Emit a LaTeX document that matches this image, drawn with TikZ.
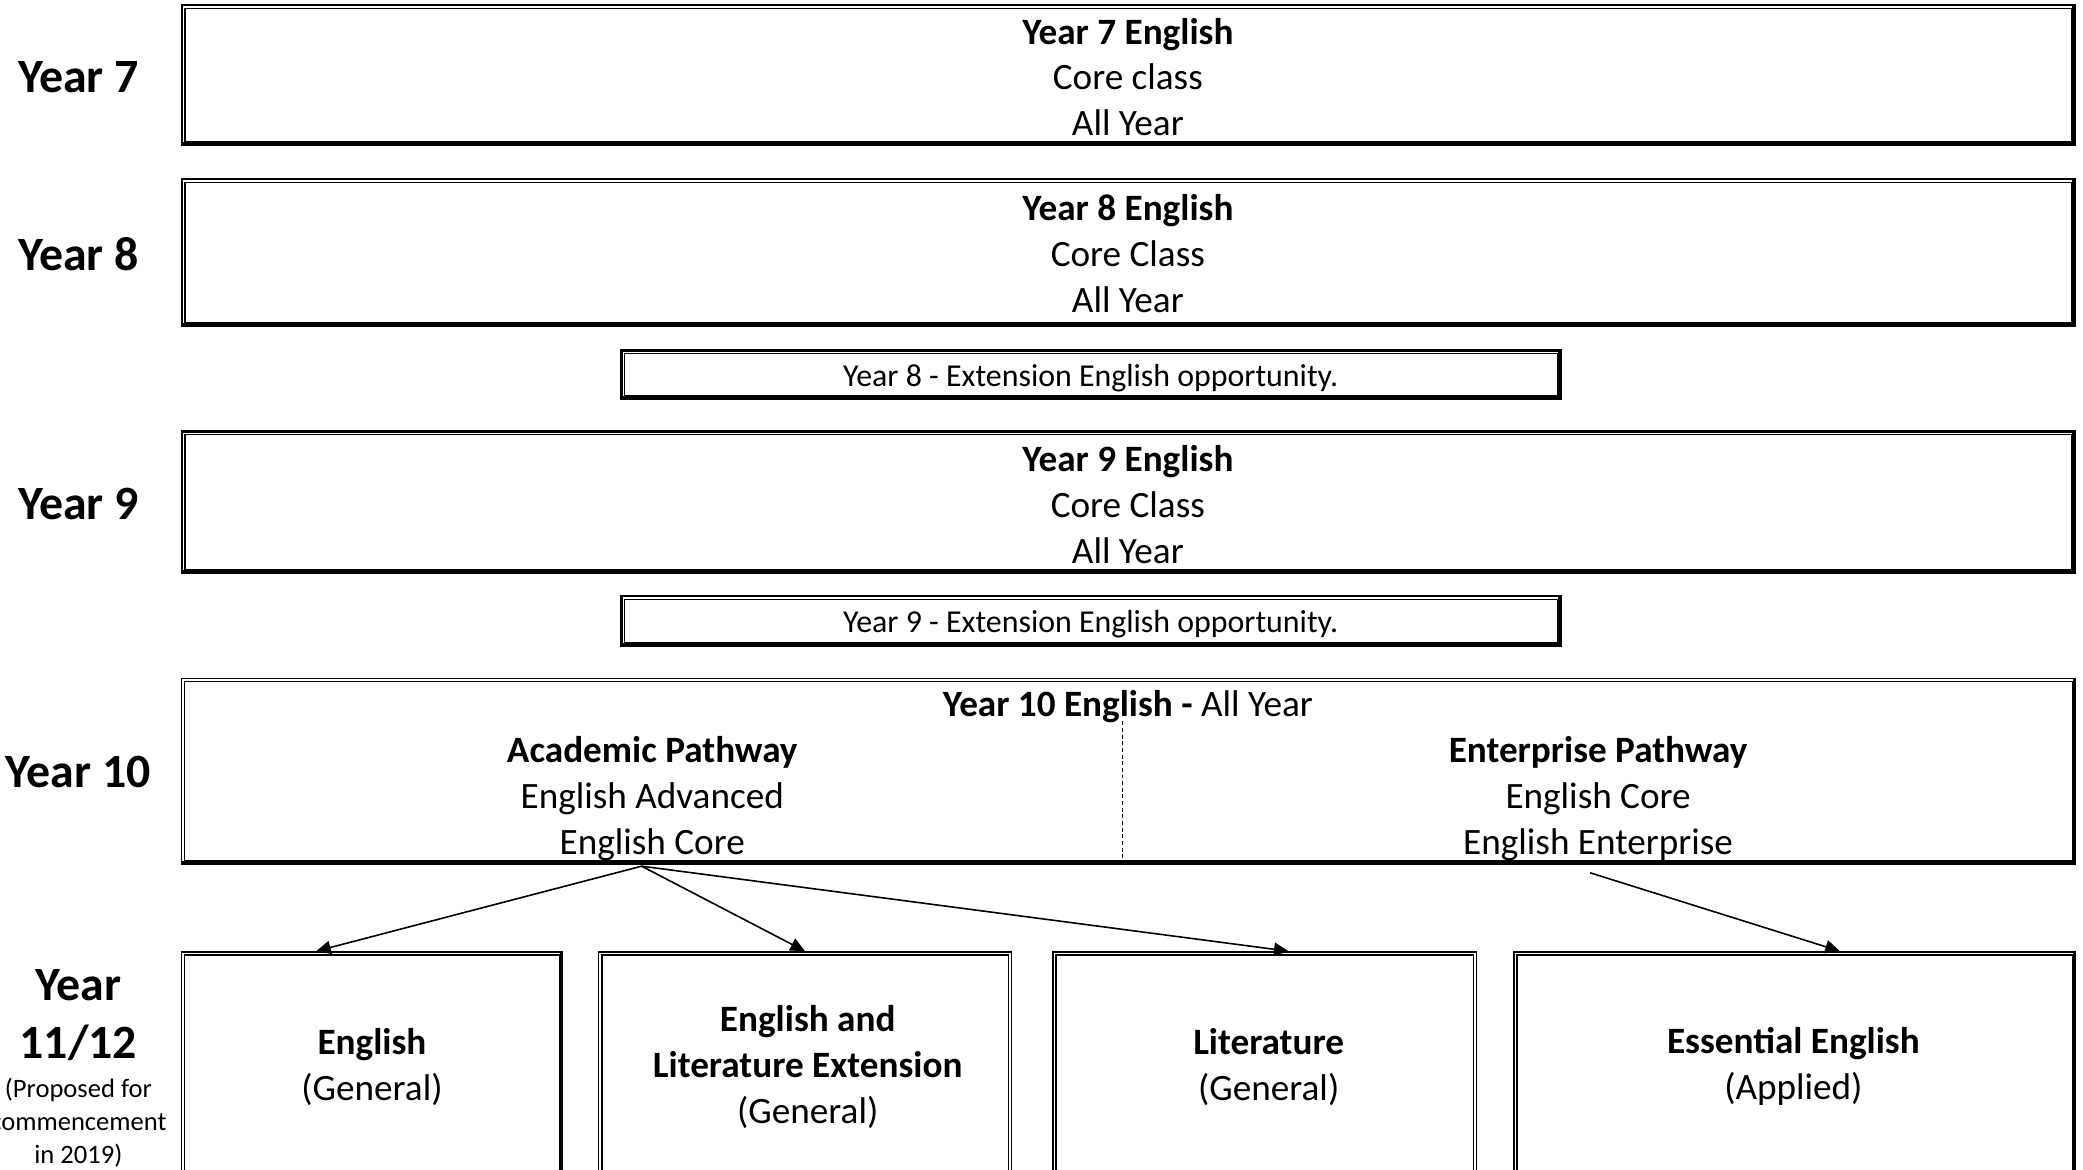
\documentclass[tikz,border=0pt]{standalone}
\usepackage{fontspec}
\setmainfont{Carlito}
\usetikzlibrary{arrows.meta,fit}
\tikzset{
  every node/.append style={inner sep=0pt, outer sep=0pt},
  frm/.style={inner sep=0pt, outer sep=0pt},
  txt/.style={font=\fontsize{14}{17.25}\selectfont, align=center},
  exttxt/.style={font=\fontsize{12}{14.6}\selectfont},
  lbl/.style={font=\fontsize{18}{22}\selectfont\bfseries, align=center},
  smalltxt/.style={font=\fontsize{10}{12.5}\selectfont, align=center},
  arr/.style={-{Triangle[length=5.5pt,width=5pt]}, line width=0.6pt},
}
\newcommand\tframe[1]{%
  \draw[line width=0.85pt] ([shift={(0.43pt,0.43pt)}]#1.south west) rectangle ([shift={(-0.43pt,-0.43pt)}]#1.north east);
  \draw[line width=0.55pt] ([shift={(1.6pt,1.6pt)}]#1.south west) rectangle ([shift={(-1.6pt,-1.6pt)}]#1.north east);
  \draw[line width=1.5pt] ([shift={(0pt,0.75pt)}]#1.south west) -- ([shift={(-0.75pt,0.75pt)}]#1.south east) -- ([shift={(-0.75pt,0pt)}]#1.north east);
}
\newcommand\dframe[1]{%
  \draw[line width=0.55pt] ([shift={(0.28pt,0.28pt)}]#1.south west) rectangle ([shift={(-0.28pt,-0.28pt)}]#1.north east);
  \draw[line width=0.55pt] ([shift={(1.5pt,1.5pt)}]#1.south west) rectangle ([shift={(-1.5pt,-1.5pt)}]#1.north east);
}
\newcommand\thickright[1]{%
  \draw[line width=1.3pt] ([shift={(-0.65pt,0pt)}]#1.south east) -- ([shift={(-0.65pt,0pt)}]#1.north east);
}
\newcommand\thickbottom[1]{%
  \draw[line width=1.4pt] ([shift={(0pt,0.7pt)}]#1.south west) -- ([shift={(0pt,0.7pt)}]#1.south east);
}
\begin{document}
\begin{tikzpicture}[x=0.5pt,y=-0.5pt]
\useasboundingbox (0,0) rectangle (1568,880);
\clip (0,0) rectangle (1568,880);

% left labels
\node[lbl] (l7) at (59,58) {Year 7};
\node[lbl] (l8) at (59,191) {Year 8};
\node[lbl] (l9) at (59,379) {Year 9};
\node[lbl] (l10) at (59,581) {Year 10};
\node[lbl] (l11) at (59,764) {Year\\11/12};
\node[smalltxt] (l11s) at (59,845) {(Proposed for\\commencement\\in 2019)};

% year boxes
\node[frm, fit={(136,3) (1563,110)}] (y7) {};
\tframe{y7}
\node[txt] (y7t) at (849,58) {\textbf{Year 7 English}\\Core class\\All Year};
\node[frm, fit={(136,134) (1563,246)}] (y8) {};
\tframe{y8}
\node[txt] (y8t) at (849,191) {\textbf{Year 8 English}\\Core Class\\All Year};
\node[frm, fit={(467,263) (1176,301)}] (e8) {};
\tframe{e8}
\node[exttxt] (e8t) at (821,285) {Year 8 - Extension English opportunity.};
\node[frm, fit={(136,324) (1563,432)}] (y9) {};
\tframe{y9}
\node[txt] (y9t) at (849,380) {\textbf{Year 9 English}\\Core Class\\All Year};
\node[frm, fit={(467,448) (1176,487)}] (e9) {};
\tframe{e9}
\node[exttxt] (e9t) at (821,470) {Year 9 - Extension English opportunity.};

% year 10
\node[frm, fit={(136,510) (1563,651)}] (y10) {};
\dframe{y10}
\thickright{y10}
\thickbottom{y10}
\node[txt] (y10h) at (849,532) {\textbf{Year 10 English -} All Year};
\node[txt] (acad) at (491,601) {\textbf{Academic Pathway}\\English Advanced\\English Core};
\node[txt] (ent) at (1203,601) {\textbf{Enterprise Pathway}\\English Core\\English Enterprise};
\coordinate (divtop) at (845,543);
\draw[line width=0.4pt, dash pattern=on 1.5pt off 1pt] (divtop) -- (divtop |- y10.south);

% year 11/12 boxes
\node[frm, fit={(136,716) (424,900)}] (bA) {};
\dframe{bA}\thickright{bA}
\node[txt] (tA) at (280,803) {\textbf{English}\\(General)};
\node[frm, fit={(450,716) (762,900)}] (bB) {};
\dframe{bB}
\node[txt] (tB) at (608,803) {\textbf{English and}\\\textbf{Literature Extension}\\(General)};
\node[frm, fit={(792,716) (1112,900)}] (bC) {};
\dframe{bC}
\node[txt] (tC) at (955,803) {\textbf{Literature}\\(General)};
\node[frm, fit={(1139,716) (1563,900)}] (bD) {};
\dframe{bD}\thickright{bD}
\node[txt] (tD) at (1350,803) {\textbf{Essential English}\\(Applied)};

% arrows
\coordinate (asrc) at (483,652);
\coordinate (esrc) at (1197,657);
\coordinate (xA) at (238,0);
\coordinate (xB) at (606,0);
\coordinate (xC) at (970,0);
\coordinate (xD) at (1385,0);
\draw[arr] (asrc) -- (xA |- bA.north);
\draw[arr] (asrc) -- (xB |- bB.north);
\draw[arr] (asrc) -- (xC |- bC.north);
\draw[arr] (esrc) -- (xD |- bD.north);
\end{tikzpicture}
\end{document}
